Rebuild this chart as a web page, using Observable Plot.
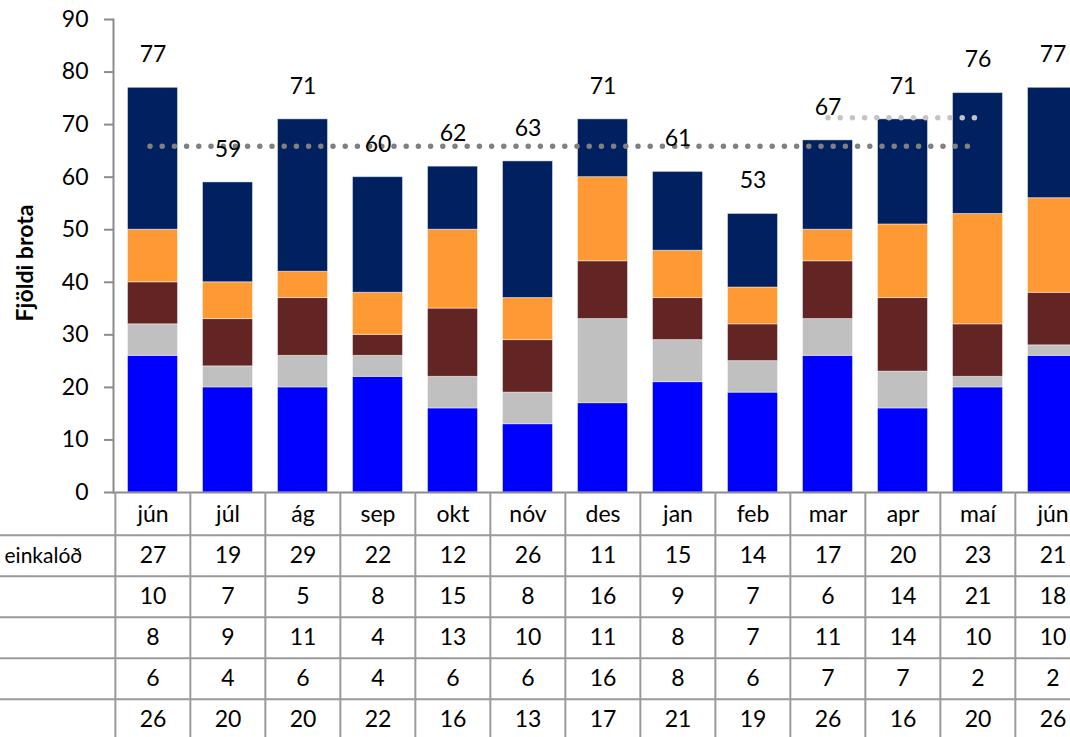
<!DOCTYPE html>
<html>
<head>
<meta charset="utf-8">
<script src="https://cdn.jsdelivr.net/npm/d3@7"></script>
<script src="https://cdn.jsdelivr.net/npm/@observablehq/plot@0.6"></script>
<style>
  html, body { margin: 0; padding: 0; background: #fff; overflow: hidden; }
  #wrap { position: relative; width: 1070px; height: 737px; overflow: hidden; background: #fff; }
  #chart, #table { position: absolute; left: 0; }
  #chart { top: 0; }
  #table { top: 492px; }
  svg { overflow: hidden; }
</style>
</head>
<body>
<div id="wrap"><div id="chart"></div><div id="table"></div></div>
<script>
// ---- data ----
const months = ["jún", "júl", "ág", "sep", "okt", "nóv", "des", "jan", "feb", "mar", "apr", "maí", "jún"];
// table rows (top to bottom); stacked bottom-to-top in reverse order
const row1Label = "einkalóð";
const navyValues   = [27, 19, 29, 22, 12, 26, 11, 15, 14, 17, 20, 23, 21];
const orangeValues = [10, 7, 5, 8, 15, 8, 16, 9, 7, 6, 14, 21, 18];
const brownValues  = [8, 9, 11, 4, 13, 10, 11, 8, 7, 11, 14, 10, 10];
const grayValues   = [6, 4, 6, 4, 6, 6, 16, 8, 6, 7, 7, 2, 2];
const blueValues   = [26, 20, 20, 22, 16, 13, 17, 21, 19, 26, 16, 20, 26];
const yTicks = [0, 10, 20, 30, 40, 50, 60, 70, 80, 90];
// average reference lines
const avg12 = {from: 0, to: 11, value: 65.9};
const avg3  = {from: 9, to: 11, value: 71.3};

// ---- derived tables ----
const rows = [
  {key: "r1", values: navyValues,   color: "#002060"},
  {key: "r2", values: orangeValues, color: "#FF9933"},
  {key: "r3", values: brownValues,  color: "#632523"},
  {key: "r4", values: grayValues,   color: "#C0C0C0"},
  {key: "r5", values: blueValues,   color: "#0000FF"}
];
const idx = months.map((_, i) => i);
const stackOrder = rows.slice().reverse();
const long = [];
idx.forEach(i => stackOrder.forEach(r => long.push({i, key: r.key, v: r.values[i]})));
const totals = idx.map(i => ({i, t: d3.sum(rows, r => r.values[i])}));
const lineAll = [{i: avg12.from, v: avg12.value}, {i: avg12.to, v: avg12.value}];
const lineRecent = [{i: avg3.from, v: avg3.value}, {i: avg3.to, v: avg3.value}];

const xRange = [113, 1092];
const step = (xRange[1] - xRange[0]) / months.length;
const font = "Lato, 'Open Sans', sans-serif";
const fs = 23;
const axisGray = "#8c8c8c";
const gridGray = "#9a9a9a";

const chart = Plot.plot({
  width: 1070, height: 500,
  marginTop: 19, marginBottom: 8, marginLeft: 113, marginRight: 0,
  style: {fontFamily: font, fontSize: fs + "px", color: "#000", background: "transparent", overflow: "visible"},
  x: {type: "band", domain: idx, range: xRange, padding: 0, axis: null},
  y: {domain: [0, 90], axis: null},
  color: {domain: rows.map(r => r.key), range: rows.map(r => r.color)},
  marks: [
    Plot.barY(long, {x: "i", y: "v", fill: "key", stroke: "#ffffff", strokeOpacity: 0.45, strokeWidth: 1,
      insetLeft: 12.5, insetRight: 12.5}),
    Plot.axisY({ticks: yTicks, tickSize: 9, tickPadding: 16, stroke: axisGray, strokeWidth: 2,
      fill: "#000", label: null, fontSize: fs}),
    Plot.ruleY([0], {stroke: axisGray, strokeWidth: 2}),
    Plot.frame({anchor: "left", stroke: axisGray, strokeWidth: 2}),
    Plot.lineY(lineAll, {x: "i", y: "v", stroke: "#808080", strokeWidth: 5.5,
      strokeDasharray: "0 12.2", strokeLinecap: "round", dx: -3}),
    Plot.lineY(lineRecent, {x: "i", y: "v", stroke: "#c4c4c4", strokeWidth: 5.5,
      strokeDasharray: "0 12.2", strokeLinecap: "round"}),
    Plot.text(totals, {x: "i", y: "t", text: "t", dy: -33, fontSize: fs, fill: "#000"}),
    Plot.text(["Fjöldi brota"], {frameAnchor: "left", textAnchor: "middle", dx: -88, dy: 7, rotate: -90,
      fontWeight: "bold", fontSize: 23, fill: "#000"})
  ]
});
document.getElementById("chart").append(chart);

// ---- data table below ----
const rowKeys = ["m", ...rows.map(r => r.key)];
const tableHeight = 249;
const rowStep = tableHeight / rowKeys.length;
const monthCells = idx.map(i => ({i, row: "m", text: months[i]}));
const valueCells = [];
rows.forEach(r => idx.forEach(i => valueCells.push({i, row: r.key, text: String(r.values[i])})));

const table = Plot.plot({
  width: 1070, height: 245,
  marginTop: 0, marginBottom: 0, marginLeft: 0, marginRight: 0,
  style: {fontFamily: font, fontSize: fs + "px", color: "#000", background: "transparent"},
  x: {type: "band", domain: idx, range: xRange, padding: 0, axis: null},
  y: {type: "band", domain: rowKeys, range: [0, tableHeight], padding: 0, axis: null},
  marks: [
    Plot.ruleX(idx, {x: d => d, dx: -step / 2, stroke: gridGray, strokeWidth: 2}),
    Plot.ruleY(rowKeys.slice(1), {y: d => d, dy: -rowStep / 2, stroke: gridGray, strokeWidth: 2}),
    Plot.text(monthCells, {x: "i", y: "row", text: "text", fontSize: fs, fill: "#000"}),
    Plot.text(valueCells, {x: "i", y: "row", text: "text", fontSize: fs, fill: "#000"}),
    Plot.text([{row: "r1", label: row1Label}], {y: "row", text: "label", frameAnchor: "left",
      dx: 4, textAnchor: "start", fontSize: 21, fill: "#000"})
  ]
});
document.getElementById("table").append(table);
</script>
</body>
</html>
